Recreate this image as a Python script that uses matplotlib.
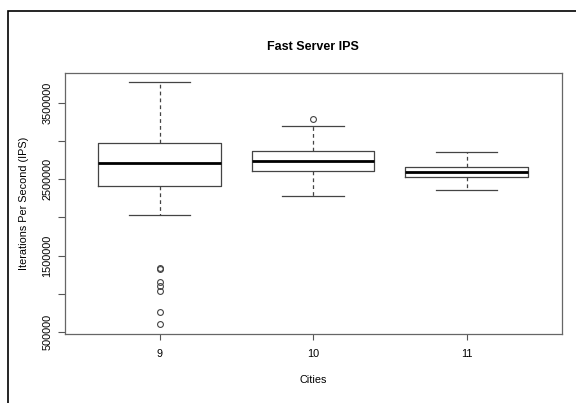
import matplotlib
matplotlib.use("Agg")
import matplotlib.pyplot as plt
from matplotlib.patches import Rectangle

plt.rcParams['font.family'] = ['Liberation Sans', 'DejaVu Sans']

# box stats
cities = ["9", "10", "11"]
q1 = [2407000, 2607000, 2525000]
med = [2708000, 2738000, 2594000]
q3 = [2978000, 2869000, 2660000]
whislo = [2035000, 2280000, 2359000]
whishi = [3768000, 3196000, 2852000]
fliers = [
    [1325000, 1335000, 1150000, 1106000, 1037000, 758000, 601000],
    [3288000],
    [],
]

stats = []
for i in range(len(cities)):
    stats.append(dict(med=med[i], q1=q1[i], q3=q3[i], whislo=whislo[i],
                      whishi=whishi[i], fliers=fliers[i], label=cities[i]))

fig = plt.figure(figsize=(5.76, 4.03), dpi=100)
ax = fig.add_axes([64.5/576, 1 - 334/403, (561.7-64.5)/576, (334-72.7)/403])

edge = '#444444'
ax.bxp(stats, widths=0.8, showfliers=True,
       boxprops=dict(color=edge, linewidth=0.9),
       whiskerprops=dict(color=edge, linewidth=0.9, linestyle=(0, (3, 2.5))),
       capprops=dict(color=edge, linewidth=0.9),
       medianprops=dict(color='black', linewidth=2.0),
       flierprops=dict(marker='o', markerfacecolor='none', markeredgecolor=edge,
                       markersize=4.2, markeredgewidth=0.8))

# R style: 0.5..n+0.5 plus 4% each side
ax.set_xlim(0.38, 3.62)
ax.set_ylim(474000, 3894000)

yt = [500000, 1000000, 1500000, 2000000, 2500000, 3000000, 3500000]
ylabs = ["500000", "", "1500000", "", "2500000", "", "3500000"]
ax.set_yticks(yt)
ax.set_yticklabels(ylabs, rotation=90, va='center')
ax.tick_params(axis='y', length=4.7, width=0.8, color='#555555', pad=4.0, labelsize=7.8)
ax.tick_params(axis='x', length=4.5, width=0.8, color='#555555', pad=6.5, labelsize=7.8)

for s in ax.spines.values():
    s.set_color('#666666')
    s.set_linewidth(0.9)

ax.set_title("Fast Server IPS", fontsize=9, fontweight='bold', pad=16)
ax.set_xlabel("Cities", fontsize=7.8, labelpad=11)
ax.set_ylabel("Iterations Per Second (IPS)", fontsize=7.8, labelpad=9.5)

# outer frame of the original device
fig.patches.append(Rectangle((8/576, -0.1), 1.0, 1 - 11/403 + 0.1,
                             transform=fig.transFigure, fill=False,
                             edgecolor='black', linewidth=1.2))

fig.savefig("out.png", dpi=100)
